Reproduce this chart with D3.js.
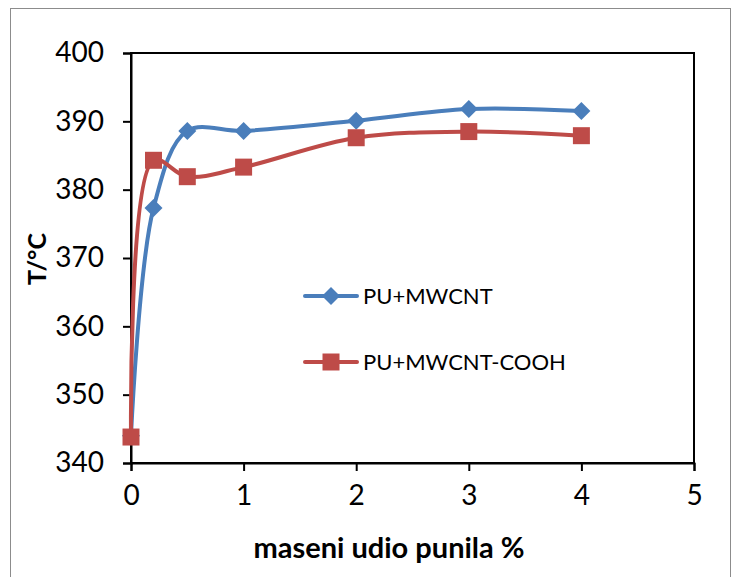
<!DOCTYPE html>
<html>
<head>
<meta charset="utf-8">
<script src="https://cdn.jsdelivr.net/npm/d3@7"></script>
<style>
  body { margin: 0; background: #fff; }
  text { font-family: Lato, "Open Sans", sans-serif; fill: #000; }
</style>
</head>
<body>
<svg width="734" height="577"></svg>
<script>
const xValues = [0, 0.2, 0.5, 1, 2, 3, 4];
const mwcnt = [344, 377.3, 388.6, 388.6, 390.1, 391.8, 391.5];
const mwcntCooh = [343.8, 384.3, 381.9, 383.3, 387.6, 388.5, 387.9];
const seriesNames = ["PU+MWCNT", "PU+MWCNT-COOH"];
const xTicks = [0, 1, 2, 3, 4, 5];
const yTicks = [340, 350, 360, 370, 380, 390, 400];

const blue = "#4a7ebb", red = "#be4b48";

var svg = d3.select("svg");

// outer chart frame
svg.append("rect")
  .attr("x", 10.5).attr("y", 8.5)
  .attr("width", 720).attr("height", 580)
  .attr("fill", "none").attr("stroke", "#8c8c8c").attr("stroke-width", 1);

var x = d3.scaleLinear().domain([0, 5]).range([131, 694]);
var y = d3.scaleLinear().domain([340, 400]).range([463, 53]);

// plot area box
svg.append("rect")
  .attr("x", x(0)).attr("y", y(400))
  .attr("width", x(5) - x(0)).attr("height", y(340) - y(400))
  .attr("fill", "none").attr("stroke", "#000").attr("stroke-width", 2);

var yAxis = svg.append("g")
  .attr("transform", "translate(" + x(0) + ",0)")
  .call(d3.axisLeft(y).tickValues(yTicks).tickFormat(d3.format("d")).tickSize(8).tickPadding(19));
var xAxis = svg.append("g")
  .attr("transform", "translate(0," + y(340) + ")")
  .call(d3.axisBottom(x).tickValues(xTicks).tickFormat(d3.format("d")).tickSize(8).tickPadding(14));

[yAxis, xAxis].forEach(function(a) {
  a.select(".domain").attr("stroke", "#000").attr("stroke-width", 2);
  a.selectAll(".tick line").attr("stroke", "#000").attr("stroke-width", 2);
  a.selectAll(".tick text").style("font-size", "28px");
});

// axis titles
svg.append("text")
  .attr("transform", "translate(46,259) rotate(-90)")
  .attr("text-anchor", "middle")
  .style("font-size", "25px").style("font-weight", "bold")
  .text("T/°C");
svg.append("text")
  .attr("x", 389).attr("y", 558)
  .attr("text-anchor", "middle")
  .style("font-size", "29px").style("font-weight", "bold")
  .text("maseni udio punila %");

var line = d3.line()
  .x(function(d) { return x(d[0]); })
  .y(function(d) { return y(d[1]); })
  .curve(d3.curveCatmullRom.alpha(0.5));

function drawSeries(vals, color, shape) {
  var pts = xValues.map(function(v, i) { return [v, vals[i]]; });
  svg.append("path")
    .datum(pts)
    .attr("d", line)
    .attr("fill", "none")
    .attr("stroke", color)
    .attr("stroke-width", 4);
  svg.append("g").selectAll("path")
    .data(pts)
    .enter()
    .append("path")
    .attr("transform", function(d) { return "translate(" + x(d[0]) + "," + y(d[1]) + ")"; })
    .attr("d", shape)
    .attr("fill", color);
}

var diamond = "M0,-9L9,0L0,9L-9,0Z";
var square = "M-8.5,-8.5H8.5V8.5H-8.5Z";

drawSeries(mwcnt, blue, diamond);
drawSeries(mwcntCooh, red, square);

// legend
var legend = [
  { name: seriesNames[0], color: blue, shape: diamond, y: 296 },
  { name: seriesNames[1], color: red, shape: square, y: 362 }
];
var lg = svg.append("g").selectAll("g")
  .data(legend)
  .enter()
  .append("g")
  .attr("transform", function(d) { return "translate(0," + d.y + ")"; });
lg.append("line")
  .attr("x1", 305).attr("x2", 357)
  .attr("stroke", function(d) { return d.color; })
  .attr("stroke-width", 4)
  .attr("stroke-linecap", "round");
lg.append("path")
  .attr("transform", "translate(331,0)")
  .attr("d", function(d) { return d.shape; })
  .attr("fill", function(d) { return d.color; });
lg.append("text")
  .attr("x", 363).attr("y", 8)
  .style("font-size", "22px")
  .text(function(d) { return d.name; });
</script>
</body>
</html>
